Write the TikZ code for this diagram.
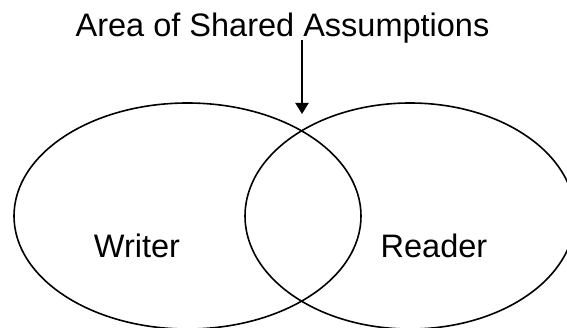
\documentclass[tikz,border=0pt]{standalone}
\usepackage{fontspec}
\setmainfont{Liberation Sans}
\usetikzlibrary{shapes.geometric,arrows.meta}

\begin{document}
\begin{tikzpicture}[x=1pt,y=1pt]
    \tikzset{
        circlestyle/.style={ellipse, draw, line width=1.6pt, inner sep=0pt},
        labeltext/.style={font=\fontsize{32.5}{38}\selectfont, anchor=base},
        pointer/.style={line width=2pt, -{Triangle[length=11pt,width=13pt]}}
    }
    \useasboundingbox (0,0) rectangle (567,327);
    \clip (0,0) rectangle (567,327);

    % --- Ellipses ---
    \node[circlestyle, minimum width=347pt, minimum height=226pt] (writer) at (187.5,111) {};
    \node[circlestyle, minimum width=330pt, minimum height=226pt] (reader) at (410,111) {};

    % Etiquettes
    \node[labeltext] (writerlabel) at (137,70) {Writer};
    \node[labeltext] (readerlabel) at (434,70) {Reader};

    % --- Titre et fleche ---
    \node[labeltext] (title) at (282.5,290) {Area of Shared Assumptions};
    \coordinate (arrowtop) at (302,287);
    \coordinate (arrowtip) at (302,213);
    \draw[pointer] (arrowtop) -- (arrowtip);
\end{tikzpicture}
\end{document}
